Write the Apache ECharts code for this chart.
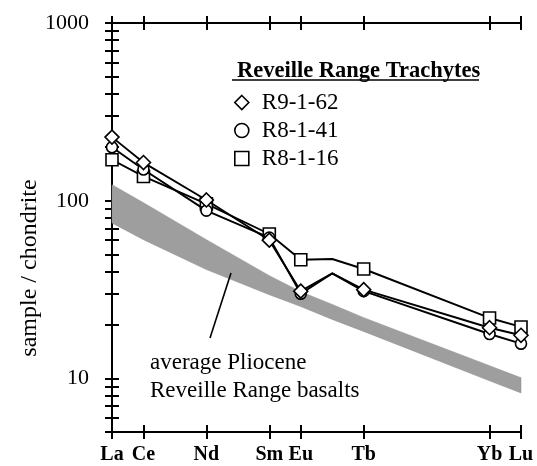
<!DOCTYPE html>
<html>
<head>
<meta charset="utf-8">
<script src="https://cdn.jsdelivr.net/npm/echarts@6/dist/echarts.min.js"></script>
<style>
  html, body { margin: 0; padding: 0; background: #fff; }
  #ree { width: 537px; height: 466px; }
</style>
</head>
<body>
<div id="ree"></div>
<script>
// REE pattern, chondrite normalised
var elements = ['La', 'Ce', 'Nd', 'Sm', 'Eu', 'Gd', 'Tb', 'Yb', 'Lu'];
var positions = [0, 1, 3, 5, 6, 7, 8, 12, 13];
var hiddenElements = ['Gd']; // line passes through, no marker, no label

var r9_1_62 = [228, 164, 101, 60, 31, 39, 31.6, 19.3, 17.5];
var r8_1_41 = [200, 150, 88, 62, 30, 39, 31, 17.8, 15.7];
var r8_1_16 = [170, 137, 96, 65, 46.6, 47, 41.3, 21.9, 19.5];

// average Pliocene basalts (shaded band)
var basaltUpper = [123, 97.5, 60.4, 37.9, 30.8, 26.1, 22.0, 11.8, 10.1];
var basaltLower = [75, 60.4, 41, 29.6, 25.4, 21.5, 18.4, 9.7, 8.3];

var yMajor = [10, 100, 1000];
var yMinor = [5, 6, 7, 8, 9, 10, 20, 30, 40, 50, 60, 70, 80, 90, 100,
  200, 300, 400, 500, 600, 700, 800, 900, 1000];

var serif = 'Liberation Serif';

var labelPos = [], labelNames = [];
for (var i = 0; i < elements.length; i++) {
  if (hiddenElements.indexOf(elements[i]) < 0) {
    labelPos.push(positions[i]);
    labelNames.push(elements[i]);
  }
}

function pts(vals) {
  return vals.map(function (v, i) {
    var item = { value: [positions[i], v] };
    if (hiddenElements.indexOf(elements[i]) >= 0) item.symbol = 'none';
    return item;
  });
}

var chart = echarts.init(document.getElementById('ree'));

function xAx(pos, inside, showLine, showLabel) {
  return {
    type: 'value', position: pos, min: 0, max: 13,
    splitLine: { show: false },
    axisLine: { show: showLine, lineStyle: { color: '#000', width: 2 } },
    axisTick: { show: true, inside: inside, length: 7, customValues: labelPos,
      lineStyle: { color: '#000', width: 2 } },
    axisLabel: {
      show: showLabel, customValues: labelPos, margin: 13,
      color: '#000', fontFamily: serif, fontWeight: 'bold', fontSize: 20,
      formatter: function (v) { return labelNames[labelPos.indexOf(v)] || ''; }
    }
  };
}

function yAx(pos, inside, showLine, ticks, showLabel) {
  return {
    type: 'log', logBase: 10, position: pos, min: 5, max: 1000,
    splitLine: { show: false },
    axisLine: { show: showLine, lineStyle: { color: '#000', width: 2 } },
    axisTick: { show: true, inside: inside, length: 7, customValues: ticks,
      lineStyle: { color: '#000', width: 2 } },
    axisLabel: {
      show: showLabel, customValues: yMajor, margin: 23,
      color: '#000', fontFamily: serif, fontSize: 22,
      formatter: function (v) { return String(Math.round(v)); }
    }
  };
}

var markerStyle = { color: '#fff', borderColor: '#000', borderWidth: 1.6 };

// band rows: [position, lower, upper]
var bandRows = positions.map(function (p, i) { return [p, basaltLower[i], basaltUpper[i]]; });

function renderBand(params, api) {
  if (params.dataIndex !== 0) return;
  var top = [], bottom = [];
  for (var k = 0; k < bandRows.length; k++) {
    top.push(api.coord([bandRows[k][0], bandRows[k][2]]));
    bottom.push(api.coord([bandRows[k][0], bandRows[k][1]]));
  }
  return {
    type: 'polygon',
    shape: { points: top.concat(bottom.reverse()) },
    style: { fill: '#9e9e9e', stroke: '#8a8a8a', lineWidth: 0.5 }
  };
}

chart.setOption({
  animation: false,
  backgroundColor: '#fff',
  grid: { left: 112, right: 16, top: 23, bottom: 34 },
  title: {
    text: 'Reveille Range Trachytes',
    left: 232, top: 55,
    textStyle: { color: '#000', fontFamily: serif, fontWeight: 'bold', fontSize: 22.5 }
  },
  legend: {
    orient: 'vertical', left: 229, top: 86, itemGap: 5,
    itemWidth: 14, itemHeight: 14, selectedMode: false,
    itemStyle: markerStyle,
    textStyle: { color: '#000', fontFamily: serif, fontSize: 23, padding: [0, 0, 0, 8] },
    data: [
      { name: 'R9-1-62', icon: 'diamond' },
      { name: 'R8-1-41', icon: 'circle' },
      { name: 'R8-1-16', icon: 'rect' }
    ]
  },
  xAxis: [
    xAx('bottom', false, true, true),
    xAx('bottom', true, false, false),
    xAx('top', false, true, false),
    xAx('top', true, false, false)
  ],
  yAxis: [
    yAx('left', true, true, yMinor, true),
    yAx('left', false, false, yMajor, false),
    yAx('right', true, true, yMinor, false),
    yAx('right', false, false, yMajor, false)
  ],
  series: [
    {
      name: 'basalts', type: 'custom', silent: true, z: 1,
      renderItem: renderBand,
      encode: { x: 0, y: [1, 2] },
      data: bandRows
    },
    {
      name: 'R8-1-16', type: 'line', symbol: 'rect', symbolSize: 12,
      lineStyle: { color: '#000', width: 1.9 }, itemStyle: markerStyle,
      data: pts(r8_1_16), z: 3
    },
    {
      name: 'R8-1-41', type: 'line', symbol: 'circle', symbolSize: 11,
      lineStyle: { color: '#000', width: 1.9 }, itemStyle: markerStyle,
      data: pts(r8_1_41), z: 4
    },
    {
      name: 'R9-1-62', type: 'line', symbol: 'diamond', symbolSize: 14,
      lineStyle: { color: '#000', width: 1.9 }, itemStyle: markerStyle,
      data: pts(r9_1_62), z: 5
    }
  ],
  graphic: [
    { type: 'line', z: 100, shape: { x1: 232, y1: 80, x2: 479, y2: 80 },
      style: { stroke: '#000', lineWidth: 1.5 } },
    { type: 'line', z: 100, shape: { x1: 210, y1: 338, x2: 231, y2: 273 },
      style: { stroke: '#000', lineWidth: 1.6 } },
    { type: 'text', z: 100, left: 150, top: 351,
      style: { text: 'average Pliocene', fill: '#000', font: '23px "Liberation Serif"' } },
    { type: 'text', z: 100, left: 150, top: 379,
      style: { text: 'Reveille Range basalts', fill: '#000', font: '23px "Liberation Serif"' } },
    { type: 'text', z: 100, x: 30, y: 268, rotation: Math.PI / 2,
      style: { text: 'sample / chondrite', fill: '#000', font: '24px "Liberation Serif"',
        align: 'center', verticalAlign: 'middle' } }
  ]
});
</script>
</body>
</html>
